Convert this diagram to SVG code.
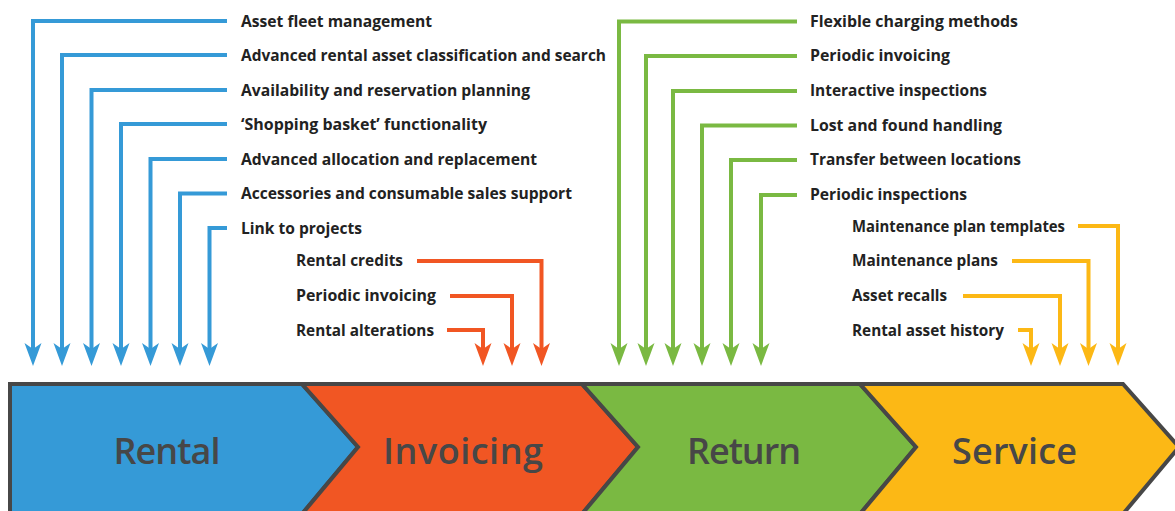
<svg xmlns="http://www.w3.org/2000/svg" width="1175" height="511" viewBox="0 0 1175 511">
<style>
.lbl{font-family:"Open Sans","Liberation Sans",sans-serif;font-weight:700;font-size:15.6px;fill:#222}
.big{font-family:"Open Sans","Liberation Sans",sans-serif;font-weight:600;font-size:36px;fill:#474747;text-anchor:middle}
.seg{stroke:#474747;stroke-width:4;stroke-linejoin:miter}
.c{fill:none;stroke-width:4}
.b{stroke:#359ad7}.o{stroke:#f15623}.g{stroke:#7ab942}.y{stroke:#fcb815}
</style>
<defs>
<marker id="ab" viewBox="-14 -10 26 20" refX="0" refY="0" markerWidth="26" markerHeight="20" markerUnits="userSpaceOnUse" orient="auto"><path d="M10,0 L-13,-8.5 L-7,0 L-13,8.5 Z" fill="#359ad7"/></marker>
<marker id="ao" viewBox="-14 -10 26 20" refX="0" refY="0" markerWidth="26" markerHeight="20" markerUnits="userSpaceOnUse" orient="auto"><path d="M10,0 L-13,-8.5 L-7,0 L-13,8.5 Z" fill="#f15623"/></marker>
<marker id="ag" viewBox="-14 -10 26 20" refX="0" refY="0" markerWidth="26" markerHeight="20" markerUnits="userSpaceOnUse" orient="auto"><path d="M10,0 L-13,-8.5 L-7,0 L-13,8.5 Z" fill="#7ab942"/></marker>
<marker id="ay" viewBox="-14 -10 26 20" refX="0" refY="0" markerWidth="26" markerHeight="20" markerUnits="userSpaceOnUse" orient="auto"><path d="M10,0 L-13,-8.5 L-7,0 L-13,8.5 Z" fill="#fcb815"/></marker>
</defs>
<rect width="1175" height="511" fill="#fff"/>

<g id="stage-rental"><path class="seg" d="M10,384 L302,384 L358,447 L302,514 L10,514 Z" fill="#359ad7"/><text class="big" x="167" y="464" textLength="107">Rental</text></g>
<g id="stage-invoicing"><path class="seg" d="M302,384 L582,384 L638,447 L582,514 L302,514 L358,447 Z" fill="#f15623"/><text class="big" x="463" y="464" textLength="160">Invoicing</text></g>
<g id="stage-return"><path class="seg" d="M582,384 L860,384 L916,447 L860,514 L582,514 L638,447 Z" fill="#7ab942"/><text class="big" x="744" y="464" textLength="114">Return</text></g>
<g id="stage-service"><path class="seg" d="M860,384 L1123,384 L1179,447 L1123,514 L860,514 L916,447 Z" fill="#fcb815"/><text class="big" x="1014.5" y="464" textLength="125">Service</text></g>

<g id="connectors">
<path class="c b" marker-end="url(#ab)" d="M227,21 H33 V356"/>
<path class="c b" marker-end="url(#ab)" d="M227,55 H62 V356"/>
<path class="c b" marker-end="url(#ab)" d="M227,90 H91.5 V356"/>
<path class="c b" marker-end="url(#ab)" d="M227,124 H121 V356"/>
<path class="c b" marker-end="url(#ab)" d="M227,159 H150.5 V356"/>
<path class="c b" marker-end="url(#ab)" d="M227,193.5 H180 V356"/>
<path class="c b" marker-end="url(#ab)" d="M227,228 H209.5 V356"/>

<path class="c o" marker-end="url(#ao)" d="M417,261 H541.5 V356"/>
<path class="c o" marker-end="url(#ao)" d="M450,296 H512 V356"/>
<path class="c o" marker-end="url(#ao)" d="M447,330 H483 V356"/>

<path class="c g" marker-end="url(#ag)" d="M797,21.5 H619 V356"/>
<path class="c g" marker-end="url(#ag)" d="M797,56 H646 V356"/>
<path class="c g" marker-end="url(#ag)" d="M797,91 H673 V356"/>
<path class="c g" marker-end="url(#ag)" d="M797,125.5 H702 V356"/>
<path class="c g" marker-end="url(#ag)" d="M797,160 H731 V356"/>
<path class="c g" marker-end="url(#ag)" d="M797,195 H761 V356"/>

<path class="c y" marker-end="url(#ay)" d="M1078,226 H1118 V356"/>
<path class="c y" marker-end="url(#ay)" d="M1012,261 H1088.5 V356"/>
<path class="c y" marker-end="url(#ay)" d="M963,296 H1060 V356"/>
<path class="c y" marker-end="url(#ay)" d="M1018,330 H1031 V356"/>
</g>

<g id="rental-features">
<text class="lbl" x="241" y="26.5" textLength="191" lengthAdjust="spacingAndGlyphs">Asset fleet management</text>
<text class="lbl" x="241" y="60.5" textLength="365" lengthAdjust="spacingAndGlyphs">Advanced rental asset classification and search</text>
<text class="lbl" x="241" y="95.5" textLength="289" lengthAdjust="spacingAndGlyphs">Availability and reservation planning</text>
<text class="lbl" x="241" y="129.5" textLength="246" lengthAdjust="spacingAndGlyphs">‘Shopping basket’ functionality</text>
<text class="lbl" x="241" y="164.5" textLength="296" lengthAdjust="spacingAndGlyphs">Advanced allocation and replacement</text>
<text class="lbl" x="241" y="199" textLength="331" lengthAdjust="spacingAndGlyphs">Accessories and consumable sales support</text>
<text class="lbl" x="241" y="233.5" textLength="121" lengthAdjust="spacingAndGlyphs">Link to projects</text>
</g>
<g id="invoicing-features">
<text class="lbl" x="296" y="266" textLength="107" lengthAdjust="spacingAndGlyphs">Rental credits</text>
<text class="lbl" x="296" y="301" textLength="140" lengthAdjust="spacingAndGlyphs">Periodic invoicing</text>
<text class="lbl" x="296" y="335.5" textLength="138" lengthAdjust="spacingAndGlyphs">Rental alterations</text>
</g>
<g id="return-features">
<text class="lbl" x="810" y="26.5" textLength="208" lengthAdjust="spacingAndGlyphs">Flexible charging methods</text>
<text class="lbl" x="810" y="61" textLength="140" lengthAdjust="spacingAndGlyphs">Periodic invoicing</text>
<text class="lbl" x="810" y="96" textLength="177" lengthAdjust="spacingAndGlyphs">Interactive inspections</text>
<text class="lbl" x="810" y="130.5" textLength="192" lengthAdjust="spacingAndGlyphs">Lost and found handling</text>
<text class="lbl" x="810" y="165" textLength="211" lengthAdjust="spacingAndGlyphs">Transfer between locations</text>
<text class="lbl" x="810" y="200" textLength="157" lengthAdjust="spacingAndGlyphs">Periodic inspections</text>
</g>
<g id="service-features">
<text class="lbl" x="852" y="231.5" textLength="213" lengthAdjust="spacingAndGlyphs">Maintenance plan templates</text>
<text class="lbl" x="852" y="266" textLength="146" lengthAdjust="spacingAndGlyphs">Maintenance plans</text>
<text class="lbl" x="852" y="301" textLength="95" lengthAdjust="spacingAndGlyphs">Asset recalls</text>
<text class="lbl" x="852" y="335.5" textLength="152" lengthAdjust="spacingAndGlyphs">Rental asset history</text>
</g>
</svg>
